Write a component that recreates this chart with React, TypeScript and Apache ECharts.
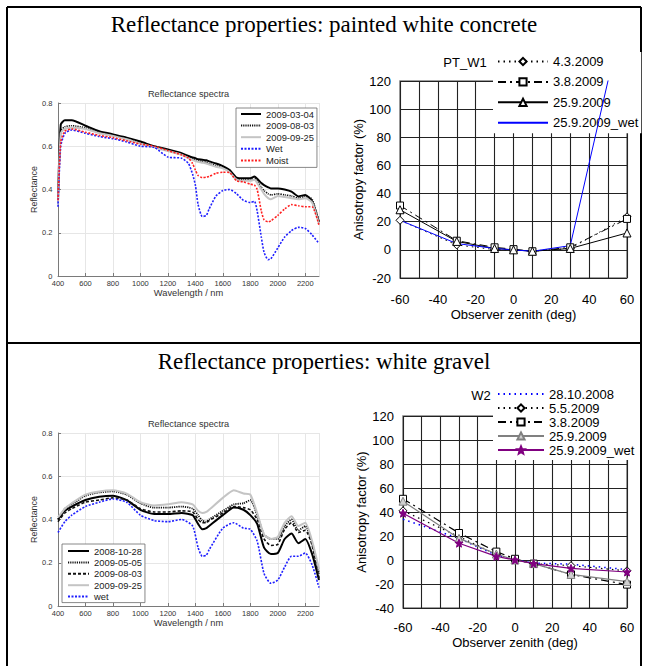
import React, { useEffect, useRef } from "react";
import * as echarts from "echarts";

// ---------- Painted white concrete: reflectance spectra ----------
const concWl = [400, 420, 450, 500, 600, 700, 800, 900, 1000, 1100, 1200, 1300, 1350, 1380, 1400, 1420, 1450, 1480, 1500, 1550, 1600, 1650, 1700, 1750, 1800, 1830, 1850, 1880, 1900, 1930, 1950, 2000, 2050, 2100, 2150, 2200, 2250, 2300];
const conc0304 = [0.35, 0.70, 0.72, 0.72, 0.695, 0.67, 0.655, 0.64, 0.622, 0.60, 0.585, 0.568, 0.555, 0.548, 0.545, 0.54, 0.538, 0.535, 0.53, 0.52, 0.508, 0.49, 0.455, 0.452, 0.452, 0.46, 0.45, 0.43, 0.42, 0.41, 0.405, 0.405, 0.40, 0.39, 0.368, 0.375, 0.345, 0.25];
const conc0803 = [0.34, 0.67, 0.69, 0.695, 0.685, 0.665, 0.65, 0.635, 0.615, 0.598, 0.58, 0.563, 0.55, 0.542, 0.538, 0.534, 0.53, 0.526, 0.52, 0.51, 0.50, 0.485, 0.448, 0.445, 0.445, 0.455, 0.44, 0.41, 0.395, 0.38, 0.375, 0.38, 0.375, 0.37, 0.36, 0.368, 0.355, 0.25];
const conc0925 = [0.33, 0.66, 0.68, 0.685, 0.68, 0.66, 0.648, 0.632, 0.612, 0.595, 0.578, 0.56, 0.545, 0.537, 0.532, 0.528, 0.524, 0.52, 0.515, 0.505, 0.498, 0.48, 0.445, 0.44, 0.44, 0.445, 0.43, 0.40, 0.38, 0.36, 0.355, 0.37, 0.365, 0.36, 0.355, 0.36, 0.34, 0.24];
const concWet = [0.32, 0.60, 0.66, 0.675, 0.66, 0.645, 0.635, 0.62, 0.60, 0.595, 0.55, 0.545, 0.52, 0.47, 0.42, 0.33, 0.275, 0.28, 0.31, 0.37, 0.395, 0.40, 0.38, 0.35, 0.34, 0.345, 0.30, 0.18, 0.11, 0.075, 0.08, 0.13, 0.18, 0.21, 0.225, 0.22, 0.19, 0.15];
const concMoist = [0.35, 0.62, 0.67, 0.68, 0.665, 0.65, 0.64, 0.625, 0.61, 0.60, 0.58, 0.56, 0.545, 0.52, 0.49, 0.465, 0.455, 0.457, 0.46, 0.475, 0.48, 0.478, 0.44, 0.435, 0.425, 0.42, 0.40, 0.30, 0.26, 0.25, 0.255, 0.28, 0.31, 0.33, 0.325, 0.32, 0.32, 0.235];

// ---------- White gravel: reflectance spectra ----------
const gravWl = [400, 450, 500, 600, 700, 800, 900, 1000, 1100, 1200, 1300, 1380, 1420, 1450, 1480, 1500, 1600, 1680, 1750, 1800, 1850, 1900, 1950, 2000, 2050, 2100, 2150, 2200, 2250, 2300];
const grav1028 = [0.40, 0.44, 0.46, 0.49, 0.505, 0.51, 0.49, 0.445, 0.425, 0.425, 0.43, 0.42, 0.38, 0.355, 0.36, 0.37, 0.42, 0.455, 0.445, 0.42, 0.38, 0.27, 0.24, 0.245, 0.31, 0.335, 0.29, 0.31, 0.24, 0.12];
const grav0505 = [0.40, 0.45, 0.47, 0.51, 0.525, 0.53, 0.515, 0.475, 0.455, 0.455, 0.46, 0.45, 0.42, 0.395, 0.39, 0.40, 0.44, 0.47, 0.475, 0.49, 0.42, 0.33, 0.31, 0.31, 0.37, 0.40, 0.35, 0.37, 0.29, 0.15];
const grav0803 = [0.39, 0.43, 0.45, 0.48, 0.49, 0.50, 0.49, 0.45, 0.435, 0.435, 0.44, 0.435, 0.40, 0.385, 0.385, 0.395, 0.43, 0.46, 0.455, 0.445, 0.40, 0.31, 0.28, 0.285, 0.355, 0.385, 0.34, 0.35, 0.28, 0.13];
const grav0925 = [0.41, 0.45, 0.475, 0.515, 0.53, 0.535, 0.52, 0.48, 0.465, 0.47, 0.48, 0.47, 0.44, 0.43, 0.435, 0.445, 0.50, 0.535, 0.52, 0.515, 0.43, 0.33, 0.31, 0.32, 0.385, 0.415, 0.37, 0.385, 0.30, 0.17];
const gravWet = [0.34, 0.39, 0.42, 0.46, 0.48, 0.495, 0.48, 0.42, 0.395, 0.39, 0.40, 0.37, 0.27, 0.23, 0.235, 0.26, 0.36, 0.385, 0.36, 0.355, 0.30, 0.15, 0.105, 0.12, 0.18, 0.23, 0.23, 0.245, 0.19, 0.085];

// ---------- Anisotropy factors ----------
const angles = [-60, -30, -10, 0, 10, 30, 60];
const w1_0403 = [21, 3.5, 0.2, 0, -1, 1, 23.5];
const w1_0308 = [31.5, 6.5, 1.8, 0.5, -1, 1.8, 22];
const w1_2509 = [28.5, 6, 1, 0, -1, 1, 12];
const w1_wet = [21, 4.5, 1, 0, -1, 3, 179];

const w2_1028 = [34, 18, 4, 0, -2.5, -3.5, -8];
const w2_0505 = [41, 19.5, 4.5, 0, -3, -4.7, -9];
const w2_0308 = [51, 22.5, 7, 1, -3, -12, -20.5];
const w2_0925 = [49, 18, 5, 0, -3, -12, -18];
const w2_wet = [39, 14, 3, 0, -3, -7, -10];

const SANS = "'Liberation Sans', Arial, sans-serif";
const SERIF = "'Liberation Serif', 'Times New Roman', serif";
const W = 648;
const H = 666;
const STAR = "path://M0,-10L2.6,-3.6L9.5,-3.1L4.2,1.4L5.9,8.1L0,4.5L-5.9,8.1L-4.2,1.4L-9.5,-3.1L-2.6,-3.6Z";

const pairs = (xs: number[], ys: number[]) => xs.map((x, i) => [x, ys[i]]);
const stripName = (n: string) => n.split("|")[1];

function spec(name: string, idx: number, xs: number[], ys: number[], color: string, width: number, type: any) {
  return {
    type: "line",
    name,
    xAxisIndex: idx,
    yAxisIndex: idx,
    data: pairs(xs, ys),
    symbol: "none",
    smooth: 0.2,
    lineStyle: { color, width, type },
    itemStyle: { color },
  };
}

function aniso(name: string, idx: number, ys: number[], color: string, width: number, type: any, symbol: string, fill: string, size = 8) {
  return {
    type: "line",
    name,
    xAxisIndex: idx,
    yAxisIndex: idx,
    data: pairs(angles, ys),
    symbol,
    symbolSize: size,
    showSymbol: symbol !== "none",
    z: 3,
    lineStyle: { color, width, type },
    itemStyle: { color: fill, borderColor: color, borderWidth: 1 },
  };
}

function specX(idx: number) {
  return {
    type: "value",
    gridIndex: idx,
    min: 400,
    max: 2300,
    interval: 200,
    name: "Wavelength / nm",
    nameLocation: "middle",
    nameGap: 12,
    nameTextStyle: { fontSize: 9.3, color: "#333", fontFamily: SANS },
    axisLine: { show: true, lineStyle: { color: "#7a7a7a", width: 1 } },
    axisTick: { show: true, inside: true, length: 3, lineStyle: { color: "#7a7a7a" } },
    axisLabel: {
      fontSize: 7.5, color: "#333", margin: 3, fontFamily: SANS, showMaxLabel: false,
      formatter: (v: number) => String(v),
    },
    splitLine: { show: true, lineStyle: { color: "#e6e6e6", width: 1 } },
  };
}
function specY(idx: number) {
  return {
    type: "value",
    gridIndex: idx,
    min: 0,
    max: 0.8,
    interval: 0.2,
    name: "Reflectance",
    nameLocation: "middle",
    nameGap: 17,
    nameTextStyle: { fontSize: 8.9, color: "#333", fontFamily: SANS },
    axisLine: { show: true, lineStyle: { color: "#7a7a7a", width: 1 } },
    axisTick: { show: true, inside: true, length: 3, lineStyle: { color: "#7a7a7a" } },
    axisLabel: { fontSize: 7.5, color: "#333", margin: 5.5, fontFamily: SANS },
    splitLine: { show: true, lineStyle: { color: "#e6e6e6", width: 1 } },
  };
}
function anX(idx: number, margin: number, nameGap: number) {
  return {
    type: "value",
    gridIndex: idx,
    min: -60,
    max: 60,
    interval: 10,
    name: "Observer zenith (deg)",
    nameLocation: "middle",
    nameGap,
    nameTextStyle: { fontSize: 13, color: "#000", fontFamily: SANS },
    axisLine: { show: false },
    axisTick: { show: false },
    axisLabel: {
      fontSize: 13,
      color: "#000",
      margin,
      fontFamily: SANS,
      formatter: (v: number) => (v % 20 === 0 ? String(v) : ""),
    },
    splitLine: { show: true, lineStyle: { color: "#222", width: 1.1 } },
  };
}
function anY(idx: number, min: number, nameGap: number) {
  return {
    type: "value",
    gridIndex: idx,
    min,
    max: 120,
    interval: 20,
    name: "Anisotropy factor (%)",
    nameLocation: "middle",
    nameGap,
    nameTextStyle: { fontSize: 13, color: "#000", fontFamily: SANS },
    axisLine: { show: false },
    axisTick: { show: false },
    axisLabel: { fontSize: 13, color: "#000", margin: 9, fontFamily: SANS },
    splitLine: { show: true, lineStyle: { color: "#222", width: 1.1 } },
  };
}

const hidden = { color: "rgba(0,0,0,0)", borderColor: "rgba(0,0,0,0)", borderWidth: 0, opacity: 0 };

const option: any = {
  animation: false,
  backgroundColor: "#fff",
  textStyle: { fontFamily: SANS },
  grid: [
    { left: 58, top: 103, width: 261, height: 173, show: false },
    { left: 400, top: 81, width: 227, height: 197, show: true, borderColor: "#808080", borderWidth: 1.5, backgroundColor: "transparent" },
    { left: 58, top: 433, width: 261, height: 173, show: false },
    { left: 403, top: 416, width: 224, height: 192, show: true, borderColor: "#808080", borderWidth: 1.5, backgroundColor: "transparent" },
  ],
  xAxis: [specX(0), anX(1, 15, 30), specX(2), anX(3, 13, 28)],
  yAxis: [specY(0), anY(1, -20, 32), specY(2), anY(3, -40, 35)],
  legend: [
    {
      left: 236, top: 108, orient: "vertical", itemWidth: 20, itemHeight: 6, itemGap: 1.6,
      padding: [1, 3, 2, 4], backgroundColor: "#fff", borderColor: "#6a6a6a", borderWidth: 0.8,
      textStyle: { fontSize: 9.4, lineHeight: 10, color: "#222", fontFamily: SANS },
      formatter: stripName,
      data: [
        { name: "c|2009-03-04", itemStyle: hidden },
        { name: "c|2009-08-03", itemStyle: hidden },
        { name: "c|2009-09-25", itemStyle: hidden },
        { name: "c|Wet", itemStyle: hidden },
        { name: "c|Moist", itemStyle: hidden },
      ],
    },
    {
      left: 493, top: 52, orient: "vertical", itemWidth: 50, itemHeight: 9, itemGap: 5.4,
      padding: [2, 3, 3, 4], backgroundColor: "#fff", z: 1,
      textStyle: { fontSize: 13, lineHeight: 15, color: "#000", fontFamily: SANS },
      formatter: stripName,
      data: [
        { name: "a|4.3.2009" },
        { name: "a|3.8.2009" },
        { name: "a|25.9.2009" },
        { name: "a|25.9.2009_wet", itemStyle: hidden },
      ],
    },
    {
      left: 62, top: 544, orient: "vertical", itemWidth: 21, itemHeight: 6, itemGap: 1.4,
      padding: [2, 3, 1, 5], backgroundColor: "#fff", borderColor: "#6a6a6a", borderWidth: 0.8,
      textStyle: { fontSize: 9.4, lineHeight: 10, color: "#222", fontFamily: SANS },
      formatter: stripName,
      data: [
        { name: "g|2008-10-28", itemStyle: hidden },
        { name: "g|2009-05-05", itemStyle: hidden },
        { name: "g|2009-08-03", itemStyle: hidden },
        { name: "g|2009-09-25", itemStyle: hidden },
        { name: "g|wet", itemStyle: hidden },
      ],
    },
    {
      left: 493, top: 385, orient: "vertical", itemWidth: 46, itemHeight: 9, itemGap: 0,
      padding: [2, 3, 3, 4], backgroundColor: "#fff", z: 1,
      textStyle: { fontSize: 13, lineHeight: 14, color: "#000", fontFamily: SANS },
      formatter: stripName,
      data: [
        { name: "b|28.10.2008", itemStyle: hidden },
        { name: "b|5.5.2009" },
        { name: "b|3.8.2009" },
        { name: "b|25.9.2009" },
        { name: "b|25.9.2009_wet" },
      ],
    },
  ],
  series: [
    spec("c|2009-03-04", 0, concWl, conc0304, "#000", 2, "solid"),
    spec("c|2009-08-03", 0, concWl, conc0803, "#111", 1.6, [1.2, 1]),
    spec("c|2009-09-25", 0, concWl, conc0925, "#c4c4c4", 2, "solid"),
    spec("c|Wet", 0, concWl, concWet, "#1f1fff", 1.6, [2, 1.5]),
    spec("c|Moist", 0, concWl, concMoist, "#ff2020", 1.6, [2, 1.5]),

    aniso("a|4.3.2009", 1, w1_0403, "#000", 1, [1.5, 4], "diamond", "#fff", 8),
    aniso("a|3.8.2009", 1, w1_0308, "#000", 1, [8, 4, 2, 4], "rect", "#fff", 7),
    aniso("a|25.9.2009", 1, w1_2509, "#000", 1, "solid", "triangle", "#fff", 8),
    aniso("a|25.9.2009_wet", 1, w1_wet, "#0000ff", 1, "solid", "none", "#0000ff"),

    spec("g|2008-10-28", 2, gravWl, grav1028, "#000", 2, "solid"),
    spec("g|2009-05-05", 2, gravWl, grav0505, "#111", 1.8, [1.2, 1]),
    spec("g|2009-08-03", 2, gravWl, grav0803, "#111", 1.6, [3, 2]),
    spec("g|2009-09-25", 2, gravWl, grav0925, "#c4c4c4", 2, "solid"),
    spec("g|wet", 2, gravWl, gravWet, "#1f1fff", 1.6, [2, 1.5]),

    aniso("b|28.10.2008", 3, w2_1028, "#0000ff", 1.5, [1.5, 4], "none", "#0000ff"),
    aniso("b|5.5.2009", 3, w2_0505, "#000", 1.2, [1.5, 4], "diamond", "#fff", 8),
    aniso("b|3.8.2009", 3, w2_0308, "#000", 1.2, [8, 4, 2, 4], "rect", "#fff", 7),
    aniso("b|25.9.2009", 3, w2_0925, "#808080", 1.2, "solid", "triangle", "#d0d0d0", 8),
    aniso("b|25.9.2009_wet", 3, w2_wet, "#800080", 1.2, "solid", STAR, "#800080", 8),
  ],
  graphic: [
    { type: "line", shape: { x1: 7, y1: 7, x2: 641, y2: 7 }, style: { stroke: "#000", lineWidth: 2 } },
    { type: "line", shape: { x1: 7, y1: 7, x2: 7, y2: 680 }, style: { stroke: "#000", lineWidth: 2 } },
    { type: "line", shape: { x1: 641, y1: 7, x2: 641, y2: 680 }, style: { stroke: "#000", lineWidth: 2 } },
    { type: "line", shape: { x1: 7, y1: 343, x2: 641, y2: 343 }, style: { stroke: "#000", lineWidth: 2 } },
    {
      type: "text", x: 324, y: 24,
      style: { text: "Reflectance properties: painted white concrete", font: `23px ${SERIF}`, fill: "#000", textAlign: "center", textVerticalAlign: "middle" },
    },
    {
      type: "text", x: 324, y: 361,
      style: { text: "Reflectance properties: white gravel", font: `23px ${SERIF}`, fill: "#000", textAlign: "center", textVerticalAlign: "middle" },
    },
    {
      type: "text", x: 188.5, y: 94,
      style: { text: "Reflectance spectra", font: `9.2px ${SANS}`, fill: "#333", textAlign: "center", textVerticalAlign: "middle" },
    },
    {
      type: "text", x: 188.5, y: 424,
      style: { text: "Reflectance spectra", font: `9.2px ${SANS}`, fill: "#333", textAlign: "center", textVerticalAlign: "middle" },
    },
    {
      type: "text", x: 465, y: 62,
      style: { text: "PT_W1", font: `13px ${SANS}`, fill: "#000", textAlign: "center", textVerticalAlign: "middle" },
    },
    {
      type: "text", x: 481, y: 395,
      style: { text: "W2", font: `13px ${SANS}`, fill: "#000", textAlign: "center", textVerticalAlign: "middle" },
    },
  ],
};

export default function App() {
  const ref = useRef<HTMLDivElement>(null);
  useEffect(() => {
    document.body.style.margin = "0";
    const chart = echarts.init(ref.current!, null, { renderer: "svg", width: W, height: H });
    chart.setOption(option);
    return () => chart.dispose();
  }, []);
  return <div ref={ref} style={{ width: W, height: H }} />;
}
